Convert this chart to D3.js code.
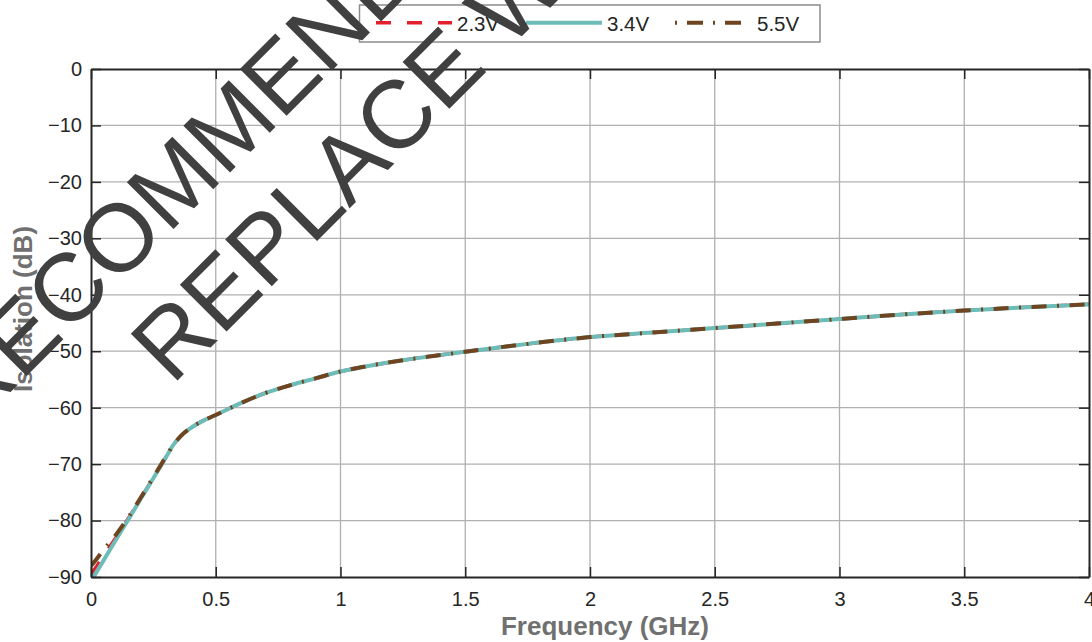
<!DOCTYPE html>
<html><head><meta charset="utf-8">
<script src="https://cdn.jsdelivr.net/npm/d3@7"></script>
<style>html,body{margin:0;padding:0;background:#fff;}svg{display:block;}</style>
</head><body>
<svg id="chart" width="1092" height="642"></svg>
<script>
// ---- data ----
const freqGHz = [0, 0.01, 0.05, 0.1, 0.15, 0.2, 0.25, 0.3, 0.33, 0.35, 0.37, 0.4, 0.45, 0.5, 0.6, 0.7, 0.8, 0.9, 1.0, 1.1, 1.25, 1.5, 1.75, 2.0, 2.25, 2.5, 2.75, 3.0, 3.25, 3.5, 3.75, 4.0];
const iso2v3 = [-89.5, -88.9, -86.3, -83.0, -79.6, -76.0, -72.4, -68.8, -66.6, -65.5, -64.6, -63.6, -62.3, -61.3, -59.2, -57.4, -56.0, -54.8, -53.6, -52.7, -51.6, -50.1, -48.7, -47.5, -46.7, -45.9, -45.1, -44.3, -43.5, -42.8, -42.2, -41.7];
const iso3v4 = [null, -90.0, -87.1, -83.4, -79.8, -76.1, -72.5, -68.8, -66.6, -65.5, -64.6, -63.6, -62.3, -61.3, -59.2, -57.4, -56.0, -54.8, -53.6, -52.7, -51.6, -50.1, -48.7, -47.5, -46.7, -45.9, -45.1, -44.3, -43.5, -42.8, -42.2, -41.7];
const iso5v5 = [-88.0, -87.5, -85.2, -82.5, -79.4, -75.9, -72.3, -68.7, -66.6, -65.5, -64.6, -63.6, -62.3, -61.3, -59.2, -57.4, -56.0, -54.8, -53.6, -52.7, -51.6, -50.1, -48.7, -47.5, -46.7, -45.9, -45.1, -44.3, -43.5, -42.8, -42.2, -41.7];
const seriesNames = ["2.3V", "3.4V", "5.5V"];
const xTicks = [0, 0.5, 1, 1.5, 2, 2.5, 3, 3.5, 4];
const xTickLabels = ["0", "0.5", "1", "1.5", "2", "2.5", "3", "3.5", "4"];
const yTicks = [0, -10, -20, -30, -40, -50, -60, -70, -80, -90];
const yTickLabels = ["0", "\u221210", "\u221220", "\u221230", "\u221240", "\u221250", "\u221260", "\u221270", "\u221280", "\u221290"];
const xTitle = "Frequency (GHz)";
const yTitle = "Isolation (dB)";
const watermark1a = "NOT";
const watermark1b = "RECOMMENDED FOR NEW DESIGNS";
const watermark2 = "REPLACE WITH";

// ---- layout ----
const svg = d3.select("#chart");
const L = 91, T = 69, R = 1089, B = 577;
const x = d3.scaleLinear().domain([0, 4]).range([L, R]);
const y = d3.scaleLinear().domain([-90, 0]).range([B, T]);
const font = "'Liberation Sans', Arial, Helvetica, sans-serif";
const axisCol = "#262626";

// grid
const grid = svg.append("g");
grid.selectAll("line.vx").data(xTicks.slice(1, -1)).join("line")
  .attr("x1", d => x(d)).attr("x2", d => x(d)).attr("y1", T).attr("y2", B)
  .attr("stroke", "#b0b0b0").attr("stroke-width", 1.3);
grid.selectAll("line.hy").data(yTicks.slice(1, -1)).join("line")
  .attr("x1", L).attr("x2", R).attr("y1", d => y(d)).attr("y2", d => y(d))
  .attr("stroke", "#b0b0b0").attr("stroke-width", 1.3);

// series
const tbl = seriesNames.map((n, i) => ({
  name: n,
  vals: freqGHz.map((f, j) => ({ f, v: [iso2v3, iso3v4, iso5v5][i][j] }))
}));
const styles = [
  { color: "#e41f2d", dash: "15,16", width: 3.5 },
  { color: "#6dbcb8", dash: null, width: 4 },
  { color: "#6e4520", dash: "15,10.5,2,10.5", width: 4 }
];
const line = d3.line().defined(d => d.v !== null).x(d => x(d.f)).y(d => y(d.v)).curve(d3.curveMonotoneX);
svg.append("defs").append("clipPath").attr("id", "clip").append("rect")
  .attr("x", L).attr("y", T - 2).attr("width", R - L + 2).attr("height", B - T + 4);
const lines = svg.append("g").attr("clip-path", "url(#clip)");
tbl.forEach((s, i) => {
  lines.append("path").datum(s.vals).attr("d", line)
    .attr("fill", "none").attr("stroke", styles[i].color)
    .attr("stroke-width", styles[i].width)
    .attr("stroke-dasharray", styles[i].dash)
    .attr("stroke-linejoin", "round");
});

// axes (box + inward ticks)
const axG = svg.append("g");
const ax = [
  d3.axisBottom(x).tickValues(xTicks).tickFormat((d, i) => xTickLabels[i]).tickSizeInner(-10).tickSizeOuter(0).tickPadding(15),
  d3.axisTop(x).tickValues(xTicks).tickFormat("").tickSizeInner(-10).tickSizeOuter(0),
  d3.axisLeft(y).tickValues(yTicks).tickFormat((d, i) => yTickLabels[i]).tickSizeInner(-10).tickSizeOuter(0).tickPadding(9),
  d3.axisRight(y).tickValues(yTicks).tickFormat("").tickSizeInner(-10).tickSizeOuter(0)
];
const pos = [`translate(0,${B})`, `translate(0,${T})`, `translate(${L},0)`, `translate(${R},0)`];
ax.forEach((a, i) => {
  const g = axG.append("g").attr("transform", pos[i]).call(a);
  g.select(".domain").attr("stroke", axisCol).attr("stroke-width", 2);
  g.selectAll(".tick line").attr("stroke", axisCol).attr("stroke-width", 1.5);
  g.selectAll(".tick text").attr("fill", axisCol).style("font-family", font).style("font-size", "20px");
});

// titles
svg.append("text").attr("x", 605).attr("y", 635).attr("text-anchor", "middle")
  .style("font-family", font).style("font-size", "26px").style("font-weight", "bold")
  .attr("fill", "#707070").text(xTitle);
svg.append("text").attr("transform", "translate(32,309) rotate(-90)").attr("text-anchor", "middle")
  .style("font-family", font).style("font-size", "26px").style("font-weight", "bold")
  .attr("fill", "#707070").text(yTitle);

// legend
const lg = svg.append("g");
lg.append("rect").attr("x", 359.5).attr("y", 5).attr("width", 460.5).attr("height", 37)
  .attr("fill", "#fff").attr("stroke", "#8c8c8c").attr("stroke-width", 1.5);
const legX = [376, 526, 675];
const legLen = [76, 76, 67];
const labX = [457, 607, 757];
seriesNames.forEach((n, i) => {
  lg.append("line").attr("x1", legX[i]).attr("x2", legX[i] + legLen[i]).attr("y1", 22.7).attr("y2", 22.7)
    .attr("stroke", styles[i].color).attr("stroke-width", styles[i].width)
    .attr("stroke-dasharray", styles[i].dash ? (i === 2 ? "2,10,16,10" : styles[i].dash) : null);
  lg.append("text").attr("x", labX[i]).attr("y", 30.5).attr("fill", axisCol)
    .style("font-family", font).style("font-size", "20.5px").text(n);
});

// watermark
const wm = svg.append("g").attr("transform", "translate(172,386) rotate(-45)")
  .style("font-family", font).style("font-size", "96px").attr("fill", "#404040");
wm.append("text").attr("x", -173 - 27).attr("y", -110).attr("text-anchor", "end").text(watermark1a);
wm.append("text").attr("x", -173).attr("y", -110).text(watermark1b);
wm.append("text").attr("x", 0).attr("y", 0).text(watermark2);
</script>
</body></html>
